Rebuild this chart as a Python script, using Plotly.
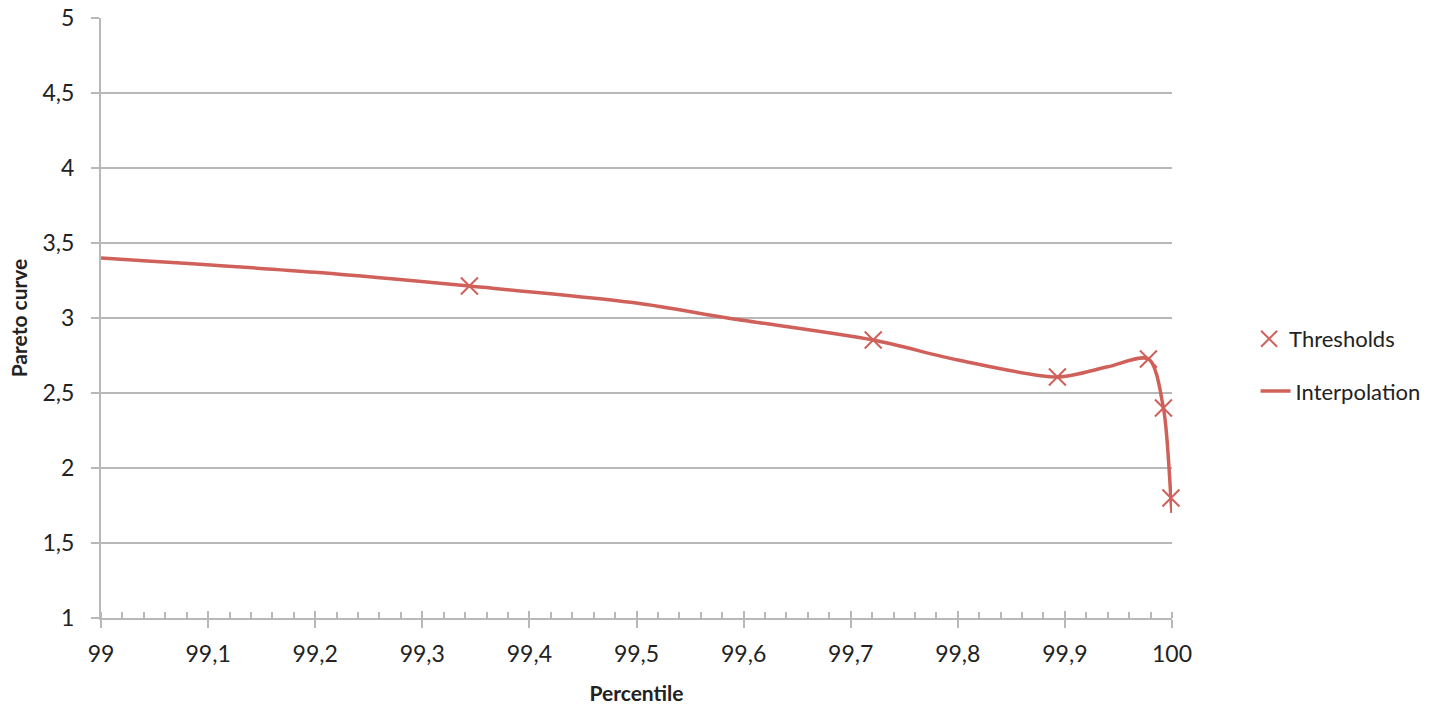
import plotly.graph_objects as go

# Threshold points (percentile, pareto coefficient)
thr_x = [99.344, 99.721, 99.893, 99.978, 99.992, 99.999]
thr_y = [3.213, 2.853, 2.607, 2.727, 2.40, 1.80]

# Points
interp_x = [99.0, 99.2, 99.344, 99.5, 99.585, 99.721, 99.8, 99.893, 99.94, 99.978, 99.992, 99.999, 100.0]
interp_y = [3.40, 3.305, 3.213, 3.10, 3.0, 2.853, 2.72, 2.607, 2.675, 2.727, 2.40, 1.80, 1.70]

x_ticks = [99.0, 99.1, 99.2, 99.3, 99.4, 99.5, 99.6, 99.7, 99.8, 99.9, 100.0]
x_labels = ["99", "99,1", "99,2", "99,3", "99,4", "99,5", "99,6", "99,7", "99,8", "99,9", "100"]
y_ticks = [1, 1.5, 2, 2.5, 3, 3.5, 4, 4.5, 5]
y_labels = ["1", "1,5", "2", "2,5", "3", "3,5", "4", "4,5", "5"]

RED = "#D0605A"
GRID = "#B8B8B8"
FONT = "Lato"

fig = go.Figure()
fig.add_trace(go.Scatter(
    x=interp_x, y=interp_y, mode="lines", name="Interpolation",
    line=dict(color=RED, width=3.5, shape="spline", smoothing=0.8),
    legend="legend2", showlegend=True,
))
fig.add_trace(go.Scatter(
    x=thr_x, y=thr_y, mode="markers", name="Thresholds", cliponaxis=False,
    marker=dict(symbol="x-thin-open", size=17, line=dict(color=RED, width=2), color=RED),
    legend="legend",
))

fig.update_layout(
    width=1446, height=710,
    margin=dict(l=101, r=274, t=18, b=92),
    paper_bgcolor="white", plot_bgcolor="white",
    separators=",.",
    font=dict(family=FONT, size=23, color="#222222"),
    xaxis=dict(
        range=[99, 100], tickvals=x_ticks, ticktext=x_labels, automargin=False,
        showgrid=False, zeroline=False,
        showline=True, linecolor=GRID, linewidth=2,
        ticks="outside", ticklen=8, tickwidth=2, tickcolor=GRID,
        minor=dict(dtick=0.02, ticks="inside", ticklen=6, tickwidth=2, tickcolor=GRID, showgrid=False),
        title=dict(text="<b>Percentile</b>", font=dict(family=FONT, size=21), standoff=21),
        ticklabelstandoff=6,
    ),
    xaxis2=dict(
        range=[99, 100], tickvals=x_ticks, overlaying="x", anchor="y", side="bottom",
        showticklabels=False, showgrid=False, zeroline=False, showline=False,
        ticks="inside", ticklen=7, tickwidth=2, tickcolor=GRID,
    ),
    yaxis=dict(
        range=[1, 5], tickvals=y_ticks, ticktext=y_labels, automargin=False,
        showgrid=True, gridcolor=GRID, gridwidth=2, zeroline=False,
        showline=True, linecolor=GRID, linewidth=2,
        ticks="outside", ticklen=8, tickwidth=2, tickcolor=GRID,
        title=dict(text="<b>Pareto curve</b>", font=dict(family=FONT, size=21), standoff=9),
        ticklabelstandoff=12,
    ),
    legend=dict(x=1.072, y=0.465, xanchor="left", yanchor="middle",
                bgcolor="rgba(0,0,0,0)", font=dict(family=FONT, size=22)),
    legend2=dict(x=1.078, y=0.378, xanchor="left", yanchor="middle",
                 bgcolor="rgba(0,0,0,0)", font=dict(family=FONT, size=22)),
)
# invisible trace to activate xaxis2 ticks
fig.add_trace(go.Scatter(x=[99, 100], y=[None, None], xaxis="x2", showlegend=False, hoverinfo="skip"))

fig.write_html("out.html", config={"displayModeBar": False},
               post_script="document.body.style.margin='0';")
